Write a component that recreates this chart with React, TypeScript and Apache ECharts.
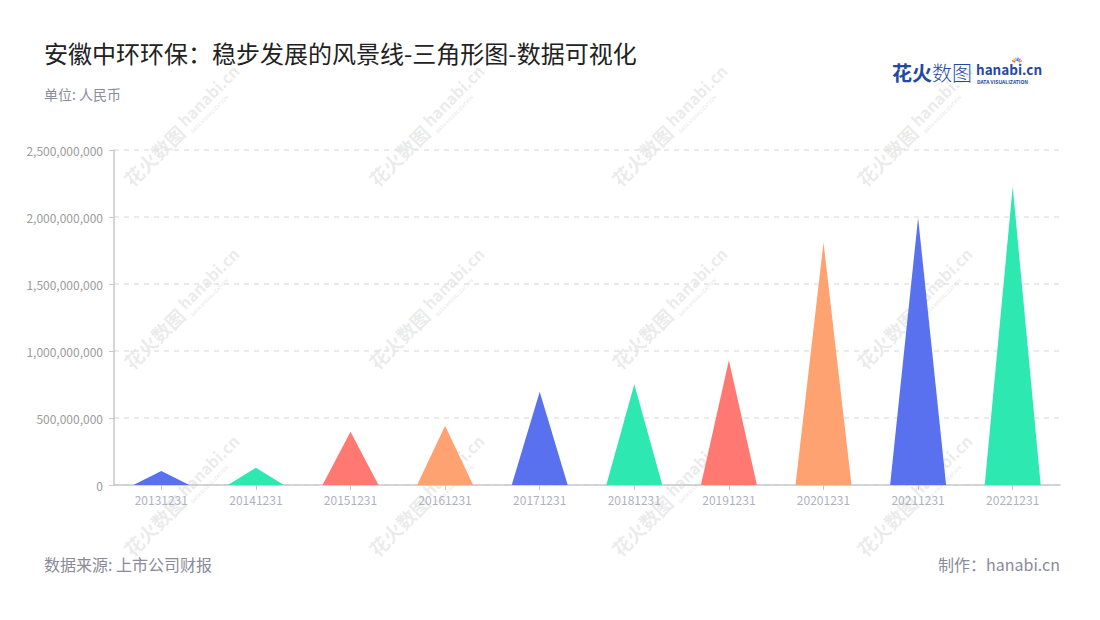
import React, { useEffect, useRef } from "react";
import * as echarts from "echarts";

const categories = ["20131231", "20141231", "20151231", "20161231", "20171231", "20181231", "20191231", "20201231", "20211231", "20221231"];
const values = [104e6, 129e6, 398e6, 443e6, 696e6, 751e6, 930e6, 1811e6, 1995e6, 2226e6];
const palette = ["#5971ee", "#2ee8b1", "#ff7871", "#ffa271"];
const yTicks = { min: 0, max: 2500000000, interval: 500000000 };
const titleText = "安徽中环环保：稳步发展的风景线-三角形图-数据可视化";
const unitText = "单位: 人民币";
const sourceText = "数据来源: 上市公司财报";
const makerText = "制作：hanabi.cn";

const FONT = "'Noto Sans CJK SC', 'Noto Sans', sans-serif";

function watermark(cx: number, cy: number) {
  const c = "rgba(150,150,150,0.2)";
  return {
    type: "group",
    x: cx,
    y: cy,
    rotation: Math.PI / 4,
    silent: true,
    z: 100,
    children: [
      { type: "text", x: -78, y: 0, style: { text: "花火数图", font: `bold 19px ${FONT}`, fill: c, textVerticalAlign: "middle", textAlign: "left" } },
      { type: "text", x: 2, y: -4, style: { text: "hanabi.cn", font: `bold 16px ${FONT}`, fill: c, textVerticalAlign: "middle", textAlign: "left" } },
      { type: "text", x: 3, y: 10, style: { text: "DATA VISUALIZATION", font: `bold 5px ${FONT}`, fill: c, textVerticalAlign: "middle", textAlign: "left" } },
    ],
  };
}

export default function App() {
  const ref = useRef<HTMLDivElement>(null);
  useEffect(() => {
    if (!ref.current) return;
    const chart = echarts.init(ref.current, null, { renderer: "svg" });
    const wmCols = [182, 427, 670, 915];
    const wmRows = [127, 310, 497];
    const wms: any[] = [];
    wmRows.forEach((y) => wmCols.forEach((x) => wms.push(watermark(x, y))));
    const starColors = ["#ff5a5a", "#ffb300", "#2ee8b1", "#5971ee", "#c45aff", "#ff8a3d"];
    const stars = starColors.map((col, i) => {
      const a = -Math.PI / 2 + (i - 2.5) * 0.45;
      return {
        type: "line",
        shape: { x1: 1017 + Math.cos(a) * 2, y1: 63 + Math.sin(a) * 2, x2: 1017 + Math.cos(a) * 5.5, y2: 63 + Math.sin(a) * 5.5 },
        style: { stroke: col, lineWidth: 1.3 },
        z: 101,
      };
    });
    chart.setOption({
      animation: false,
      backgroundColor: "#fff",
      textStyle: { fontFamily: FONT },
      grid: { left: 114, right: 40, top: 150, bottom: 135, containLabel: false },
      xAxis: {
        type: "category",
        data: categories,
        axisLine: { show: true, lineStyle: { color: "#c8c8c8", width: 1.5 } },
        axisTick: { show: true, alignWithLabel: true, length: 5, lineStyle: { color: "#c8c8c8" } },
        axisLabel: { color: "#aeb2be", fontSize: 12, margin: 8, fontFamily: FONT },
      },
      yAxis: {
        type: "value",
        min: yTicks.min,
        max: yTicks.max,
        interval: yTicks.interval,
        axisLine: { show: true, lineStyle: { color: "#c8c8c8", width: 1.5 } },
        axisTick: { show: true, length: 5, lineStyle: { color: "#c8c8c8" } },
        axisLabel: {
          color: "#9b9b9b",
          fontSize: 12,
          margin: 11,
          fontFamily: FONT,
          formatter: (v: number) => v.toLocaleString("en-US"),
        },
        splitLine: { show: true, lineStyle: { color: "#e3e3e3", type: [5, 5], width: 1.5 } },
      },
      series: [
        {
          type: "pictorialBar",
          symbol: "path://M0,10 L5,0 L10,10 Z",
          symbolSize: ["100%", "100%"],
          barCategoryGap: "41%",
          data: values.map((v, i) => ({ value: v, itemStyle: { color: palette[i % palette.length] } })),
          z: 10,
        },
      ],
      graphic: [
        { type: "text", left: 44, top: 40, style: { text: titleText, font: `24px ${FONT}`, fill: "#222" } },
        { type: "text", left: 44, top: 87, style: { text: unitText, font: `14px ${FONT}`, fill: "#8c8c9a" } },
        { type: "text", left: 44, top: 556, style: { text: sourceText, font: `16px ${FONT}`, fill: "#8a8a9a" } },
        { type: "text", right: 40, top: 556, style: { text: makerText, font: `16px ${FONT}`, fill: "#8a8a9a" } },
        { type: "text", x: 892, y: 72, z: 101, style: { text: "花火", font: `bold 20px ${FONT}`, fill: "#2549a3", textVerticalAlign: "middle" } },
        { type: "text", x: 932, y: 72, z: 101, style: { text: "数图", font: `300 20px ${FONT}`, fill: "#2549a3", textVerticalAlign: "middle" } },
        { type: "text", x: 976, y: 69, z: 101, style: { text: "hanabi.cn", font: `bold 13.5px ${FONT}`, fill: "#2549a3", textVerticalAlign: "middle" } },
        { type: "text", x: 977, y: 81, z: 101, style: { text: "DATA VISUALIZATION", font: `bold 5px ${FONT}`, fill: "#2549a3", textVerticalAlign: "middle" } },
        ...stars,
        ...wms,
      ],
    });
    return () => chart.dispose();
  }, []);
  return <div ref={ref} style={{ position: "fixed", left: 0, top: 0, width: 1100, height: 620 }} />;
}
